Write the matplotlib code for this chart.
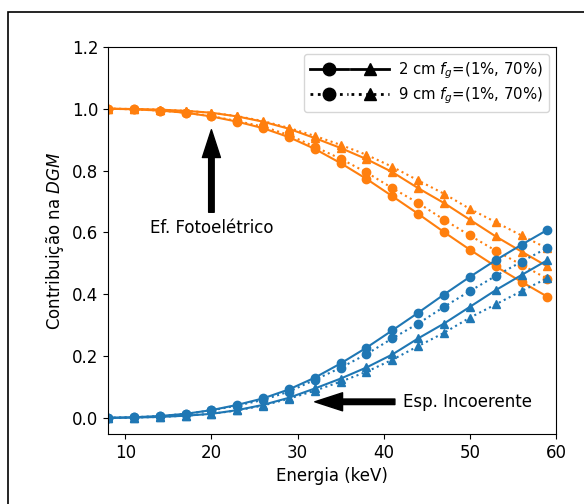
import numpy as np
import matplotlib
matplotlib.use('Agg')
import matplotlib.pyplot as plt
from matplotlib.lines import Line2D
from matplotlib.legend_handler import HandlerTuple
from matplotlib.patches import Rectangle

# Energias (keV)
energia = [8, 11, 14, 17, 20, 23, 26, 29, 32, 35, 38, 41, 44, 47, 50, 53, 56, 59]

# Efeito fotoelétrico
foto_2cm_c = [1.0, 0.998, 0.994, 0.987, 0.975, 0.958, 0.937, 0.908, 0.870, 0.824,
              0.773, 0.717, 0.660, 0.601, 0.544, 0.490, 0.440, 0.392]
foto_9cm_c = [1.0, 0.998, 0.994, 0.987, 0.976, 0.960, 0.942, 0.915, 0.877, 0.838,
              0.794, 0.743, 0.695, 0.641, 0.590, 0.541, 0.495, 0.450]
foto_2cm_t = [1.0, 0.999, 0.997, 0.993, 0.987, 0.975, 0.958, 0.935, 0.905, 0.873,
              0.837, 0.795, 0.743, 0.695, 0.641, 0.587, 0.538, 0.490]
foto_9cm_t = [1.0, 0.999, 0.997, 0.993, 0.987, 0.976, 0.960, 0.938, 0.912, 0.883,
              0.851, 0.812, 0.768, 0.725, 0.676, 0.633, 0.590, 0.548]

# Espalhamento incoerente
inc_2cm_c = [0.0, 0.002, 0.006, 0.013, 0.025, 0.042, 0.063, 0.092, 0.130, 0.176,
             0.227, 0.283, 0.340, 0.399, 0.456, 0.510, 0.560, 0.608]
inc_9cm_c = [0.0, 0.002, 0.006, 0.013, 0.024, 0.040, 0.058, 0.085, 0.123, 0.162,
             0.206, 0.257, 0.305, 0.359, 0.410, 0.459, 0.505, 0.550]
inc_2cm_t = [0.0, 0.001, 0.003, 0.007, 0.013, 0.025, 0.042, 0.065, 0.095, 0.127,
             0.163, 0.205, 0.257, 0.305, 0.359, 0.413, 0.462, 0.510]
inc_9cm_t = [0.0, 0.001, 0.003, 0.007, 0.013, 0.024, 0.040, 0.062, 0.088, 0.117,
             0.149, 0.188, 0.232, 0.275, 0.324, 0.367, 0.410, 0.452]

LARANJA = '#ff7f0e'
AZUL = '#1f77b4'

plt.rcParams['font.size'] = 12

fig = plt.figure(figsize=(5.84, 5.04), dpi=100)
ax = fig.add_axes([0.185, 0.139, 0.767, 0.768])

ms = 6
ax.plot(energia, foto_2cm_c, '-o', color=LARANJA, ms=ms)
ax.plot(energia, foto_2cm_t, '-^', color=LARANJA, ms=ms)
ax.plot(energia, foto_9cm_c, ':o', color=LARANJA, ms=ms)
ax.plot(energia, foto_9cm_t, ':^', color=LARANJA, ms=ms)
ax.plot(energia, inc_2cm_c, '-o', color=AZUL, ms=ms)
ax.plot(energia, inc_2cm_t, '-^', color=AZUL, ms=ms)
ax.plot(energia, inc_9cm_c, ':o', color=AZUL, ms=ms)
ax.plot(energia, inc_9cm_t, ':^', color=AZUL, ms=ms)

ax.set_xlim(8, 60)
ax.set_ylim(-0.052, 1.2)
ax.set_yticks(np.arange(0, 1.21, 0.2))
ax.set_xlabel('Energia (keV)')
ax.set_ylabel('Contribuição na $DGM$')

# setas
seta = dict(facecolor='black', edgecolor='black', width=4, headwidth=13, headlength=20, shrink=0)
ax.annotate('', xy=(20, 0.932), xytext=(20, 0.665), arrowprops=seta)
ax.text(20, 0.615, 'Ef. Fotoelétrico', ha='center', va='center')
ax.annotate('', xy=(32.0, 0.052), xytext=(41.3, 0.052), arrowprops=seta)
ax.text(42.2, 0.052, 'Esp. Incoerente', ha='left', va='center')

# legenda
lms = 9
lw = 2
h2 = (Line2D([], [], color='black', ls='-', lw=lw, marker='o', ms=lms),
      Line2D([], [], color='black', ls='-', lw=lw, marker='^', ms=lms))
h9 = (Line2D([], [], color='black', ls=':', lw=lw, marker='o', ms=lms),
      Line2D([], [], color='black', ls=':', lw=lw, marker='^', ms=lms))
ax.legend([h2, h9], ['2 cm $f_g$=(1%, 70%)', '9 cm $f_g$=(1%, 70%)'],
          handler_map={tuple: HandlerTuple(ndivide=None, pad=0.2)},
          loc='upper right', handlelength=5.3, handletextpad=0.6, fontsize=10.7,
          labelspacing=0.3)

# moldura da figura
fig.patches.append(Rectangle((8 / 584, -0.1), 1.2, 0.1 + 1 - 12 / 504, transform=fig.transFigure,
                             fill=False, edgecolor='black', linewidth=1.2, clip_on=False))

fig.savefig('out.png', dpi=100)
